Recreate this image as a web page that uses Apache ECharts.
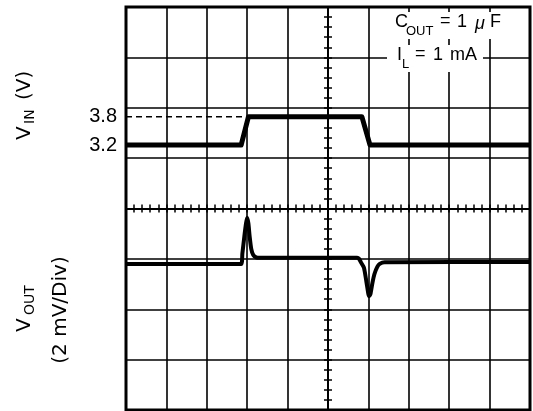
<!DOCTYPE html>
<html>
<head>
<meta charset="utf-8">
<script src="https://cdn.jsdelivr.net/npm/echarts@6/dist/echarts.min.js"></script>
<style>html,body{margin:0;padding:0;background:#fff;}#c{width:533px;height:411px;}</style>
</head>
<body>
<div id="c"></div>
<script>
// time in scope divisions (0 = screen centre)
const vinTime  = [-5, -2.15, -1.97, 0.84, 1.04, 5];
const vinVolts = [3.2, 3.2, 3.8, 3.8, 3.2, 3.2];
const refTime  = [-5, -2.0];
const refVolts = [3.8, 3.8];
const vinTickLabels = [3.2, 3.8];
// VOUT deviation in mV (2 mV/Div)
const voutTime = [-5, -2.15, -2.12, -2.07, -2.03, -2.0, -1.97, -1.94, -1.90, -1.85, -1.78, -1.7,
                  0.72, 0.77, 0.82, 0.89, 0.95, 1.0, 1.02, 1.05, 1.1, 1.15, 1.22, 1.28, 1.4, 5];
const voutMv   = [0, 0, 0.4, 1.1, 1.6, 1.83, 1.6, 1.1, 0.6, 0.35, 0.26, 0.24,
                  0.24, 0.2, 0.05, -0.15, -0.7, -1.2, -1.28, -1.2, -0.75, -0.4, -0.12, 0.0, 0.07, 0.08];

const zip = (a, b) => a.map((v, i) => [v, b[i]]);
const F = '"Liberation Sans", Arial, sans-serif';
const FD = '"DejaVu Sans", sans-serif';
const black = '#000';

const gridAxis = (inside, split) => ({
  type: 'value', min: 0, max: 0, interval: 1,
  axisLine: { show: true, onZero: true, onZeroAxisIndex: 0, lineStyle: { color: black, width: 2 } },
  axisTick: { show: true, inside: inside, length: 4, lineStyle: { color: black, width: 1.5 } },
  minorTick: { show: true, splitNumber: 5, length: 4, lineStyle: { color: black, width: 1.5 } },
  axisLabel: { show: false },
  splitLine: { show: split, lineStyle: { color: black, width: 1.6 } }
});

const x0 = Object.assign(gridAxis(false, true), { min: -5, max: 5, position: 'bottom' });
const x1 = Object.assign(gridAxis(true, false), { min: -5, max: 5, position: 'bottom' });
const y0 = Object.assign(gridAxis(false, true), { min: -4, max: 4, position: 'left' });
const y1 = Object.assign(gridAxis(true, false), { min: -4, max: 4, position: 'left' });

const txt = (s, x, y, size, extra) => Object.assign({
  type: 'text', x: x, y: y, z: 11,
  style: { text: s, font: size + 'px ' + F, fill: black, align: 'left', verticalAlign: 'middle' }
}, extra || {});

const chart = echarts.init(document.getElementById('c'), null, { renderer: 'canvas' });
chart.setOption({
  animation: false,
  grid: { left: 126, top: 7, width: 404, height: 403, show: true, borderColor: black, borderWidth: 3, backgroundColor: 'transparent' },
  xAxis: [x0, x1],
  yAxis: [
    y0, y1,
    {
      type: 'value', min: -2.42, max: 6.13, position: 'left',
      axisLine: { show: false },
      splitLine: { show: false },
      axisTick: { show: true, customValues: [3.8], length: 8, lineStyle: { color: black, width: 1.5 } },
      axisLabel: { show: true, customValues: vinTickLabels, margin: 9, fontSize: 20, color: black, fontFamily: F }
    },
    { type: 'value', min: -5.80, max: 10.20, show: false }
  ],
  series: [
    { type: 'line', xAxisIndex: 0, yAxisIndex: 2, data: zip(refTime, refVolts), symbol: 'none',
      lineStyle: { color: black, width: 1.5, type: [6, 4] }, z: 3 },
    { type: 'line', xAxisIndex: 0, yAxisIndex: 2, data: zip(vinTime, vinVolts), symbol: 'none',
      lineStyle: { color: black, width: 5, join: 'round' }, z: 4 },
    { type: 'line', xAxisIndex: 0, yAxisIndex: 3, data: zip(voutTime, voutMv), symbol: 'none', smooth: 0.2,
      lineStyle: { color: black, width: 4, join: 'round' }, z: 4 }
  ],
  graphic: [
    { type: 'rect', z: 10, shape: { x: 392, y: 12, width: 108, height: 27 }, style: { fill: '#fff' } },
    { type: 'rect', z: 10, shape: { x: 387, y: 45, width: 96, height: 27 }, style: { fill: '#fff' } },
    txt('C', 395, 22, 18),
    txt('OUT', 406, 31, 13),
    txt('=', 440, 21, 18),
    txt('1', 457, 22, 18),
    { type: 'text', x: 475, y: 24, z: 11, style: { text: 'μ', font: 'italic 18px ' + F, fill: black, align: 'left', verticalAlign: 'middle' } },
    txt('F', 490, 22, 18),
    txt('I', 397, 55, 18),
    txt('L', 402, 64, 13),
    txt('=', 415, 54, 18),
    txt('1', 433, 55, 18),
    txt('mA', 450, 55, 18),
    {
      type: 'group', x: 25, y: 140, rotation: Math.PI / 2, z: 11,
      children: [
        { type: 'text', x: 0, y: 0, style: { text: 'V', font: '20px ' + FD, fill: black, align: 'left', verticalAlign: 'middle' } },
        { type: 'text', x: 16, y: 5, style: { text: 'IN', font: '14px ' + FD, fill: black, align: 'left', verticalAlign: 'middle' } },
        { type: 'text', x: 40, y: 0, style: { text: '(V)', font: '20px ' + FD, fill: black, align: 'left', verticalAlign: 'middle' } }
      ]
    },
    {
      type: 'group', x: 25, y: 332, rotation: Math.PI / 2, z: 11,
      children: [
        { type: 'text', x: 0, y: 0, style: { text: 'V', font: '20px ' + FD, fill: black, align: 'left', verticalAlign: 'middle' } },
        { type: 'text', x: 17, y: 5, style: { text: 'OUT', font: '14px ' + FD, fill: black, align: 'left', verticalAlign: 'middle' } },
        { type: 'text', x: 22, y: 36, style: { text: '(2 mV/Div)', font: '20px ' + FD, fill: black, align: 'center', verticalAlign: 'middle' } }
      ]
    }
  ]
});
</script>
</body>
</html>
